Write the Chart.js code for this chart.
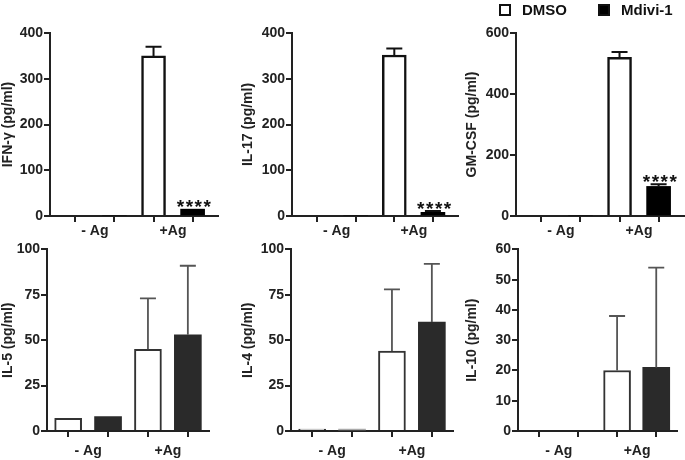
<!DOCTYPE html>
<html>
  <head>
    <script src="https://cdn.jsdelivr.net/npm/chart.js@4"></script>
    <style>
      body { margin: 0; background: #fff; }
      #wrap { position: relative; width: 685px; height: 460px; }
      #wrap canvas { position: absolute; }
    </style>
  </head>

  <body>
    <div id="wrap">
      <canvas id="ifng" width="225" height="240" style="left: 0px; top: 0px"></canvas>
      <canvas id="il17" width="225" height="240" style="left: 240px; top: 0px"></canvas>
      <canvas id="gmcsf" width="221" height="240" style="left: 464px; top: 0px"></canvas>
      <canvas id="il5" width="215" height="220" style="left: 0px; top: 240px"></canvas>
      <canvas id="il4" width="220" height="220" style="left: 240px; top: 240px"></canvas>
      <canvas id="il10" width="221" height="220" style="left: 464px; top: 240px"></canvas>
    </div>
    <script>
      const groups = ['- Ag', '+Ag'];
      const seriesNames = ['DMSO', 'Mdivi-1'];
      const signif = ['', '****'];

      // mean and upper error (pg/ml), -Ag then +Ag
      const ifngDmso = [0, 350], ifngDmsoErr = [0, 20];
      const ifngMdivi = [0, 15], ifngMdiviErr = [0, 0];
      const il17Dmso = [0, 352], il17DmsoErr = [0, 14];
      const il17Mdivi = [0, 8], il17MdiviErr = [0, 3];
      const gmcsfDmso = [0, 520], gmcsfDmsoErr = [0, 18];
      const gmcsfMdivi = [0, 97], gmcsfMdiviErr = [0, 7];
      const il5Dmso = [7, 45], il5DmsoErr = [0, 28];
      const il5Mdivi = [8, 53], il5MdiviErr = [0, 38];
      const il4Dmso = [1, 44], il4DmsoErr = [0, 34];
      const il4Mdivi = [1, 60], il4MdiviErr = [0, 32];
      const il10Dmso = [0, 20], il10DmsoErr = [0, 18];
      const il10Mdivi = [0, 21], il10MdiviErr = [0, 33];

      Chart.defaults.font.family = "'Liberation Sans', Arial, sans-serif";
      Chart.defaults.font.weight = 'bold';
      Chart.defaults.font.size = 14;
      Chart.defaults.color = '#222';

      const errorBars = {
        id: 'errorBars',
        afterDatasetsDraw(chart) {
          const ctx = chart.ctx;
          const y = chart.scales.y;
          chart.data.datasets.forEach((ds, i) => {
            chart.getDatasetMeta(i).data.forEach((bar, j) => {
              const v = ds.data[j].y;
              const err = ds.errors[j];
              let top = bar.y;
              if (err > 0) {
                top = y.getPixelForValue(v + err);
                ctx.save();
                ctx.strokeStyle = ds.errColor;
                ctx.lineWidth = ds.errWidth;
                ctx.beginPath();
                ctx.moveTo(bar.x, bar.y);
                ctx.lineTo(bar.x, top);
                ctx.moveTo(bar.x - 8, top);
                ctx.lineTo(bar.x + 8, top);
                ctx.stroke();
                ctx.restore();
              }
              if (ds.stars && ds.stars[j]) {
                ctx.save();
                ctx.fillStyle = '#111';
                ctx.font = "bold 19px 'Liberation Sans', Arial, sans-serif";
                ctx.letterSpacing = '1.5px';
                ctx.textAlign = 'center';
                ctx.textBaseline = 'alphabetic';
                ctx.fillText(ds.stars[j], bar.x + 2, top + 4);
                ctx.restore();
              }
            });
          });
        },
      };

      const legendBoxes = {
        id: 'legendBoxes',
        afterDraw(chart, args, opts) {
          if (!opts.show) return;
          const ctx = chart.ctx;
          ctx.save();
          chart.data.datasets.forEach((ds, i) => {
            const x = opts.x[i];
            ctx.fillStyle = ds.backgroundColor;
            ctx.fillRect(x, 5, 10, 10);
            ctx.strokeStyle = '#111';
            ctx.lineWidth = 2;
            ctx.strokeRect(x, 5, 10, 10);
            ctx.fillStyle = '#111';
            ctx.font = "bold 15px 'Liberation Sans', Arial, sans-serif";
            ctx.textBaseline = 'middle';
            ctx.fillText(ds.label, x + 22, 10.5);
          });
          ctx.restore();
        },
      };

      function points(vals, first) {
        return vals.map((v, g) => ({ x: 2 * g + first, y: v }));
      }

      function panel(id, p) {
        const top = p.row === 0;
        const ink = top ? '#111' : '#333';
        const fill = top ? '#000' : '#2a2a2a';
        const pad = top ? 0.65 : 0.53;
        return new Chart(document.getElementById(id), {
          type: 'bar',
          data: {
            datasets: [
              {
                label: seriesNames[0],
                data: points(p.dmso, 0),
                errors: p.dmsoErr,
                backgroundColor: '#fff',
                borderColor: ink,
                borderWidth: top ? 2.5 : 2,
                errColor: top ? '#111' : '#555',
                errWidth: top ? 2 : 1.8,
              },
              {
                label: seriesNames[1],
                data: points(p.mdivi, 1),
                errors: p.mdiviErr,
                stars: p.stars,
                backgroundColor: p.mdiviColors || fill,
                borderColor: p.mdiviColors || fill,
                borderWidth: 0,
                errColor: top ? '#111' : '#555',
                errWidth: top ? 2 : 1.8,
              },
            ],
          },
          options: {
            responsive: false,
            animation: false,
            devicePixelRatio: 1,
            grouped: false,
            barThickness: top ? 24 : 27,
            layout: { padding: { top: p.padTop, right: p.padRight, bottom: 0, left: 0 } },
            plugins: {
              legend: { display: false },
              tooltip: { enabled: false },
              legendBoxes: { show: !!p.legendX, x: p.legendX },
            },
            scales: {
              x: {
                type: 'linear',
                offset: false,
                min: -pad,
                max: 3 + pad,
                afterBuildTicks: (s) => {
                  s.ticks = [0, 1, 2, 3].map((v) => ({ value: v }));
                },
                afterFit: (s) => {
                  s.height = top ? 24 : 29;
                },
                ticks: {
                  autoSkip: false,
                  maxRotation: 0,
                  labelOffset: top ? 19.5 : 20,
                  padding: top ? 1 : 6,
                  callback: (v) => (v % 2 === 0 ? groups[v / 2] : ''),
                },
                grid: { offset: false, drawOnChartArea: false, tickLength: 6, color: '#222', lineWidth: 2 },
                border: { color: '#222', width: 2 },
              },
              y: {
                min: 0,
                max: p.max,
                afterFit: (s) => {
                  s.width = p.yWidth;
                },
                ticks: { stepSize: p.step, padding: 1 },
                title: { display: true, text: p.title, padding: 0 },
                grid: { drawOnChartArea: false, tickLength: 6, color: '#222', lineWidth: 2 },
                border: { color: '#222', width: 2 },
              },
            },
          },
          plugins: [errorBars, legendBoxes],
        });
      }

      panel('ifng', {
        row: 0, title: 'IFN-γ (pg/ml)', max: 400, step: 100, yWidth: 50, padTop: 33, padRight: 7,
        dmso: ifngDmso, dmsoErr: ifngDmsoErr, mdivi: ifngMdivi, mdiviErr: ifngMdiviErr, stars: signif,
      });
      panel('il17', {
        row: 0, title: 'IL-17 (pg/ml)', max: 400, step: 100, yWidth: 52, padTop: 33, padRight: 7,
        dmso: il17Dmso, dmsoErr: il17DmsoErr, mdivi: il17Mdivi, mdiviErr: il17MdiviErr, stars: signif,
      });
      panel('gmcsf', {
        row: 0, title: 'GM-CSF (pg/ml)', max: 600, step: 200, yWidth: 52, padTop: 33, padRight: 1,
        dmso: gmcsfDmso, dmsoErr: gmcsfDmsoErr, mdivi: gmcsfMdivi, mdiviErr: gmcsfMdiviErr, stars: signif,
        legendX: [36, 135],
      });
      panel('il5', {
        row: 1, title: 'IL-5 (pg/ml)', max: 100, step: 25, yWidth: 47, padTop: 9, padRight: 6,
        dmso: il5Dmso, dmsoErr: il5DmsoErr, mdivi: il5Mdivi, mdiviErr: il5MdiviErr,
      });
      panel('il4', {
        row: 1, title: 'IL-4 (pg/ml)', max: 100, step: 25, yWidth: 51, padTop: 7, padRight: 7,
        dmso: il4Dmso, dmsoErr: il4DmsoErr, mdivi: il4Mdivi, mdiviErr: il4MdiviErr,
        mdiviColors: ['#aaa', '#2a2a2a'],
      });
      panel('il10', {
        row: 1, title: 'IL-10 (pg/ml)', max: 60, step: 10, yWidth: 54, padTop: 9, padRight: 8,
        dmso: il10Dmso, dmsoErr: il10DmsoErr, mdivi: il10Mdivi, mdiviErr: il10MdiviErr,
      });
    </script>
  </body>
</html>
